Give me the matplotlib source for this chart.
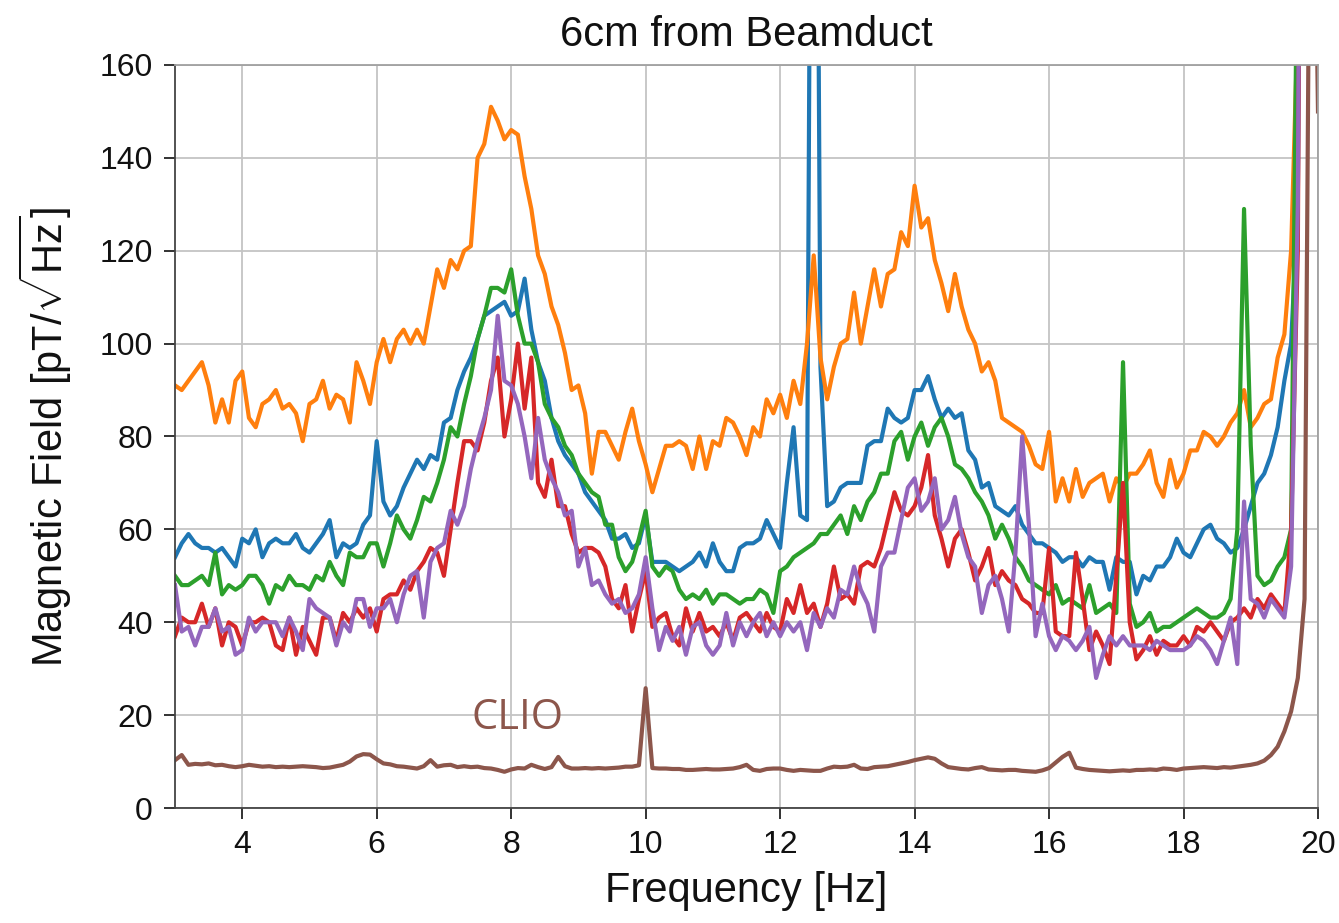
import numpy as np
import matplotlib
matplotlib.use("Agg")
import matplotlib.pyplot as plt

# frequency grid of the spectra (Hz)
freq = np.round(np.arange(3.0, 20.05, 0.1), 1)

blue = [54, 57, 59, 57, 56, 56, 55, 56, 54, 52,
        58, 57, 60, 54, 57, 58, 57, 57, 59, 56,
        55, 57, 59, 62, 54, 57, 56, 57, 61, 63,
        79, 66, 63, 65, 69, 72, 75, 73, 76, 75,
        83, 84, 90, 94, 97, 101, 106, 107, 108, 109,
        106, 107, 114, 103, 96, 92, 84, 79, 76, 74,
        72, 68, 66, 64, 62, 58, 58, 59, 56, 57,
        63, 53, 53, 53, 52, 51, 52, 53, 55, 52,
        57, 53, 51, 51, 56, 57, 57, 58, 62, 59,
        56, 70, 82, 63, 62, 350, 95, 65, 66, 69,
        70, 70, 70, 78, 79, 79, 86, 84, 83, 84,
        90, 90, 93, 88, 84, 86, 84, 85, 77, 75,
        69, 70, 65, 64, 63, 65, 61, 59, 57, 57,
        56, 55, 53, 54, 54, 52, 54, 53, 53, 47,
        54, 53, 53, 46, 50, 49, 52, 52, 54, 58,
        55, 54, 57, 60, 61, 58, 57, 55, 56, 60,
        65, 70, 72, 76, 82, 92, 100, 130, 400, 600,
        900]

orange = [91, 90, 92, 94, 96, 91, 83, 88, 83, 92,
          94, 84, 82, 87, 88, 90, 86, 87, 85, 79,
          87, 88, 92, 86, 89, 88, 83, 96, 92, 87,
          96, 101, 96, 101, 103, 100, 103, 100, 108, 116,
          112, 118, 116, 120, 121, 140, 143, 151, 148, 144,
          146, 145, 136, 129, 119, 115, 108, 104, 98, 90,
          91, 85, 72, 81, 81, 78, 75, 81, 86, 79,
          74, 68, 73, 78, 78, 79, 78, 73, 80, 73,
          79, 78, 84, 83, 80, 76, 82, 80, 88, 85,
          89, 84, 92, 87, 100, 119, 97, 88, 95, 100,
          101, 111, 100, 108, 116, 108, 115, 116, 124, 121,
          134, 125, 127, 118, 113, 107, 115, 108, 103, 100,
          94, 96, 92, 84, 83, 82, 81, 78, 74, 73,
          81, 66, 71, 66, 73, 67, 70, 71, 72, 66,
          71, 69, 72, 72, 74, 77, 70, 67, 75, 69,
          72, 77, 77, 81, 80, 78, 80, 83, 85, 90,
          82, 84, 87, 88, 97, 102, 120, 170, 400, 600,
          900]

green = [50, 48, 48, 49, 50, 48, 55, 46, 48, 47,
         48, 50, 50, 48, 44, 48, 47, 50, 48, 48,
         47, 50, 49, 53, 50, 48, 55, 54, 54, 57,
         57, 52, 57, 63, 60, 58, 62, 67, 66, 70,
         75, 82, 80, 87, 93, 101, 106, 112, 112, 111,
         116, 106, 100, 100, 96, 87, 84, 82, 78, 76,
         72, 70, 68, 67, 61, 61, 54, 51, 53, 58,
         64, 52, 50, 52, 51, 47, 45, 46, 45, 47,
         44, 46, 46, 45, 44, 45, 45, 47, 46, 42,
         51, 52, 54, 55, 56, 57, 59, 59, 61, 63,
         59, 65, 62, 66, 68, 72, 72, 79, 81, 75,
         80, 83, 78, 82, 84, 80, 74, 73, 71, 68,
         66, 63, 58, 61, 58, 54, 52, 49, 48, 47,
         46, 48, 44, 45, 44, 43, 48, 42, 43, 44,
         42, 96, 44, 39, 40, 42, 38, 39, 39, 40,
         41, 42, 43, 42, 41, 41, 42, 45, 60, 129,
         78, 50, 48, 49, 52, 54, 60, 200, 400, 600,
         900]

red = [37, 41, 40, 40, 44, 39, 43, 35, 40, 39,
       35, 40, 40, 41, 40, 35, 34, 41, 33, 39,
       36, 33, 41, 41, 36, 42, 40, 43, 41, 43,
       38, 45, 46, 46, 49, 47, 51, 53, 56, 55,
       50, 60, 70, 79, 79, 77, 83, 92, 97, 80,
       88, 100, 86, 97, 70, 67, 75, 65, 65, 59,
       55, 56, 56, 55, 52, 45, 43, 48, 38, 45,
       51, 39, 41, 42, 37, 35, 43, 38, 42, 38,
       39, 37, 40, 36, 41, 42, 40, 38, 42, 39,
       38, 45, 42, 48, 42, 44, 39, 44, 52, 45,
       46, 44, 52, 53, 52, 56, 62, 68, 64, 63,
       65, 69, 76, 63, 58, 52, 58, 60, 55, 49,
       52, 56, 48, 51, 49, 48, 45, 44, 42, 42,
       56, 38, 37, 37, 55, 45, 34, 38, 35, 31,
       50, 70, 40, 32, 34, 37, 33, 36, 35, 35,
       37, 35, 39, 38, 40, 38, 36, 40, 41, 43,
       41, 45, 43, 46, 44, 42, 60, 120, 400, 600,
       900]

purple = [48, 38, 39, 35, 39, 39, 43, 38, 39, 33,
          34, 41, 38, 40, 40, 40, 37, 41, 38, 34,
          45, 43, 42, 41, 35, 40, 38, 45, 45, 39,
          43, 43, 45, 40, 46, 50, 51, 41, 53, 56,
          57, 64, 61, 65, 73, 79, 84, 90, 106, 92,
          91, 87, 80, 71, 84, 75, 71, 68, 63, 64,
          52, 56, 48, 49, 46, 44, 45, 42, 43, 46,
          54, 43, 34, 39, 36, 39, 33, 39, 40, 35,
          33, 35, 42, 35, 40, 37, 40, 42, 37, 40,
          37, 40, 38, 40, 34, 42, 39, 43, 41, 47,
          46, 52, 47, 44, 38, 52, 55, 55, 62, 69,
          71, 64, 66, 71, 60, 62, 67, 59, 54, 52,
          42, 48, 50, 45, 38, 55, 80, 61, 37, 44,
          37, 34, 37, 36, 34, 36, 39, 28, 33, 37,
          35, 37, 35, 35, 35, 34, 36, 35, 34, 34,
          34, 35, 37, 36, 34, 31, 36, 41, 31, 66,
          45, 44, 41, 45, 43, 41, 52, 130, 400, 600,
          900]

clio = [10.3, 11.4, 9.3, 9.5, 9.4, 9.6, 9.2, 9.3, 9.0, 8.8,
        9.0, 9.3, 9.1, 8.9, 9.0, 8.8, 8.9, 8.8, 8.9, 9.0,
        8.9, 8.8, 8.6, 8.7, 9.0, 9.3, 10.0, 11.1, 11.6, 11.5,
        10.5, 9.6, 9.4, 9.0, 8.9, 8.7, 8.5, 9.0, 10.3, 8.9,
        9.2, 9.3, 8.8, 9.0, 8.8, 8.9, 8.6, 8.5, 8.2, 7.8,
        8.3, 8.6, 8.5, 9.3, 8.8, 8.4, 8.8, 11.0, 9.0, 8.5,
        8.5, 8.6, 8.5, 8.6, 8.5, 8.6, 8.7, 8.9, 8.9, 9.2,
        25.8, 8.6, 8.5, 8.5, 8.4, 8.4, 8.2, 8.2, 8.3, 8.4,
        8.3, 8.3, 8.4, 8.5, 8.8, 9.3, 8.2, 8.0, 8.4, 8.5,
        8.5, 8.2, 8.0, 8.2, 8.1, 8.0, 8.0, 8.5, 8.9, 8.8,
        8.9, 9.3, 8.5, 8.4, 8.8, 8.9, 9.0, 9.3, 9.6, 9.9,
        10.3, 10.6, 10.9, 10.6, 9.6, 8.8, 8.6, 8.4, 8.3, 8.6,
        8.8, 8.3, 8.2, 8.1, 8.2, 8.2, 8.0, 7.9, 7.8, 8.1,
        8.6, 9.8, 11.0, 11.9, 8.7, 8.4, 8.2, 8.1, 8.0, 7.9,
        8.0, 8.1, 8.0, 8.2, 8.2, 8.3, 8.2, 8.5, 8.4, 8.2,
        8.5, 8.6, 8.7, 8.8, 8.7, 8.6, 8.8, 8.7, 8.9, 9.1,
        9.3, 9.6, 10.2, 11.4, 13.2, 16.5, 20.8, 28.0, 45.0, 250.0,
        150.0]

series = [blue, orange, green, red, purple, clio]
colors = ["#1f77b4", "#ff7f0e", "#2ca02c", "#d62728", "#9467bd", "#8c564b"]

title = "6cm from Beamduct"
xlabel = "Frequency [Hz]"
ylabel = r"Magnetic Field [pT/$\sqrt{\mathrm{Hz}}$]"
xticks = [4, 6, 8, 10, 12, 14, 16, 18, 20]
yticks = [0, 20, 40, 60, 80, 100, 120, 140, 160]

plt.rcParams["font.family"] = ["Liberation Sans", "DejaVu Sans"]
plt.rcParams["mathtext.fontset"] = "custom"
plt.rcParams["mathtext.rm"] = "Liberation Sans"
plt.rcParams["mathtext.it"] = "Liberation Sans:italic"
plt.rcParams["mathtext.bf"] = "Liberation Sans:bold"

fig = plt.figure(figsize=(13.39, 9.23), dpi=100)
ax = fig.add_axes([175 / 1339, 1 - 808 / 923, (1318 - 175) / 1339, (808 - 65) / 923])

for vals, c in zip(series, colors):
    ax.plot(freq, vals, color=c, lw=3.0, solid_joinstyle="round")

ax.set_xlim(3, 20)
ax.set_ylim(0, 160)
ax.set_xticks(xticks)
ax.set_yticks(yticks)
ax.grid(True, color="#c4c4c4", lw=1.3)
ax.set_axisbelow(True)

for side in ["left", "bottom"]:
    ax.spines[side].set_color("#444444")
    ax.spines[side].set_linewidth(1.3)
for side in ["top", "right"]:
    ax.spines[side].set_color("#a0a0a0")
    ax.spines[side].set_linewidth(1.3)

ax.tick_params(axis="both", direction="out", length=8, width=1.3, color="#222222",
               labelsize=23, pad=8, labelcolor="#111111")

ax.set_title(title, fontsize=30, pad=14, color="#111111")
ax.set_xlabel(xlabel, fontsize=30, labelpad=8, color="#111111")
ax.set_ylabel(ylabel, fontsize=30, labelpad=18, color="#111111")

ax.text(8.1, 19.4, "CLIO", color="#8c564b", fontsize=30, family="Open Sans",
        ha="center", va="center")

fig.savefig("out.png", dpi=100)
